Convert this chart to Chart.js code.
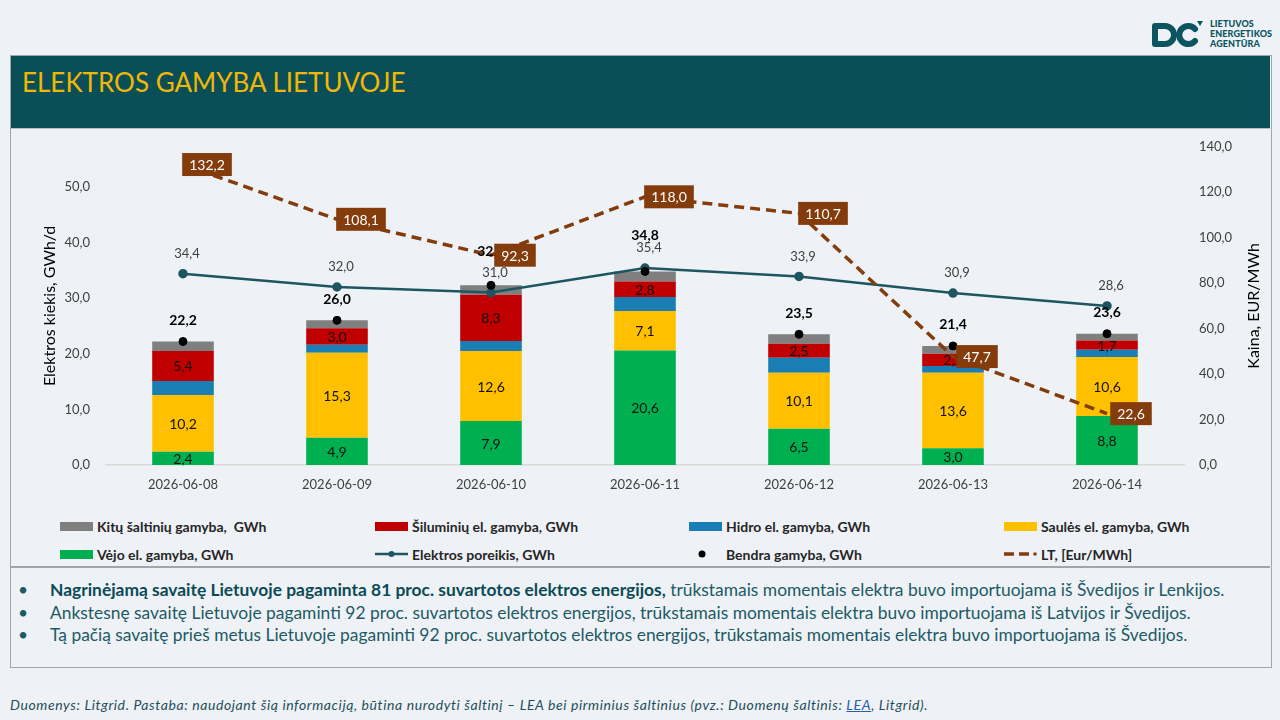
<!DOCTYPE html>
<html lang="lt">
<head>
<meta charset="utf-8">
<title>Elektros gamyba Lietuvoje</title>
<script src="https://cdn.jsdelivr.net/npm/chart.js@4.4.1/dist/chart.umd.min.js"></script>
<style>
  html, body { margin: 0; padding: 0; }
  body { width: 1280px; height: 720px; background: #eef2f6; position: relative; overflow: hidden; font-family: Lato, "Open Sans", sans-serif; }
  #remas { position: absolute; left: 10px; top: 55px; width: 1262px; height: 613px; border: 1.5px solid #a3a6a9; box-sizing: border-box; }
  #antraste { position: absolute; left: 11px; top: 56px; width: 1259px; height: 72px; background: #0a4f57; border-bottom: 1.5px solid #b9bcbf; }
  #antraste h1 { margin: 0; position: absolute; left: 11px; top: 10px; font-weight: 400; font-size: 26px; color: #f2b705; letter-spacing: 0; }
  #grafikas { position: absolute; left: 11px; top: 123px; }
  #legenda { position: absolute; left: 0; top: 512px; width: 1280px; height: 56px; }
  .irasas { position: absolute; height: 20px; display: flex; align-items: center; font-size: 14px; font-weight: 700; color: #262626; white-space: pre; }
  .irasas .zenklas { width: 33px; height: 12px; margin-right: 4px; display: flex; align-items: center; }
  #skirtukas { position: absolute; left: 11px; top: 566px; width: 1259px; height: 1.5px; background: #a3a6a9; }
  #tekstas { position: absolute; left: 18px; top: 579px; margin: 0; padding: 0; list-style: none; font-size: 17.4px; color: #1d5a64; }
  #tekstas li { position: relative; padding-left: 32px; height: 22.5px; line-height: 22.5px; white-space: nowrap; }
  #tekstas li::before { content: "•"; position: absolute; left: 0; top: 0; color: #1d5a64; }
  #tekstas b { color: #0b4a55; }
  #saltinis { position: absolute; left: 10px; top: 696px; font-size: 14px; font-style: italic; color: #1f4e5a; white-space: nowrap; letter-spacing: 0.6px; }
  #saltinis u { color: #2a5fa8; }
  #logo { position: absolute; left: 1150px; top: 18px; display: flex; align-items: center; }
  #logo .pav { margin-left: 6px; font-size: 9px; font-weight: 900; color: #0b5560; line-height: 10px; letter-spacing: 0.1px; }
</style>
</head>
<body>
<div id="logo">
  <svg width="54" height="32" viewBox="0 0 54 32">
    <path d="M5 8 H15 A9 9 0 0 1 15 26 H5 Z" fill="none" stroke="#0b5560" stroke-width="6" stroke-linejoin="round"/>
    <path d="M45 11 A9 9 0 1 0 45 23" fill="none" stroke="#0b5560" stroke-width="6" stroke-linecap="round"/>
    <path d="M47 3 L53 3 L50 8 Z" fill="#0b5560"/>
  </svg>
  <div class="pav">LIETUVOS<br>ENERGETIKOS<br>AGENTŪRA</div>
</div>

<div id="remas"></div>
<div id="antraste"><h1>ELEKTROS GAMYBA LIETUVOJE</h1></div>
<canvas id="grafikas" width="1259" height="386"></canvas>
<div id="legenda"></div>
<div id="skirtukas"></div>
<ul id="tekstas">
  <li><b>Nagrinėjamą savaitę Lietuvoje pagaminta 81 proc. suvartotos elektros energijos,</b> trūkstamais momentais elektra buvo importuojama iš Švedijos ir Lenkijos.</li>
  <li>Ankstesnę savaitę Lietuvoje pagaminti 92 proc. suvartotos elektros energijos, trūkstamais momentais elektra buvo importuojama iš Latvijos ir Švedijos.</li>
  <li>Tą pačią savaitę prieš metus Lietuvoje pagaminti 92 proc. suvartotos elektros energijos, trūkstamais momentais elektra buvo importuojama iš Švedijos.</li>
</ul>
<div id="saltinis">Duomenys: Litgrid. Pastaba: naudojant šią informaciją, būtina nurodyti šaltinį – LEA bei pirminius šaltinius (pvz.: Duomenų šaltinis: <u>LEA</u>, Litgrid).</div>

<script>
// duomenys
const dienos = ["2026-06-08", "2026-06-09", "2026-06-10", "2026-06-11", "2026-06-12", "2026-06-13", "2026-06-14"];
const vejo = [2.4, 4.9, 7.9, 20.6, 6.5, 3.0, 8.8];
const saules = [10.2, 15.3, 12.6, 7.1, 10.1, 13.6, 10.6];
const hidro = [2.5, 1.4, 1.8, 2.5, 2.7, 1.2, 1.3];
const siluminiu = [5.4, 3.0, 8.3, 2.8, 2.5, 2.2, 1.7];
const kitu = [1.7, 1.4, 1.7, 1.8, 1.7, 1.4, 1.2];
const poreikis = [34.4, 32.0, 31.0, 35.4, 33.9, 30.9, 28.6];
const bendra = [22.2, 26.0, 32.3, 34.8, 23.5, 21.4, 23.6];
const kaina = [132.2, 108.1, 92.3, 118.0, 110.7, 47.7, 22.6];

const kiekioTiksai = [0, 10, 20, 30, 40, 50];

const kablelis = v => v.toFixed(1).replace(".", ",");

Chart.defaults.font.family = "Lato, 'Open Sans', sans-serif";
Chart.defaults.color = "#404040";

// reiksmiu uzrasai ant stulpeliu ir tasku
const zymos = {
  id: "zymos",
  afterDatasetsDraw(chart) {
    const ctx = chart.ctx;
    const dsList = chart.data.datasets;
    const porMeta = chart.getDatasetMeta(dsList.findIndex(d => d.zyme === "virsus"));
    const porY = porMeta.data.map(el => el.y - 20);
    ctx.save();
    ctx.textAlign = "center";
    ctx.textBaseline = "middle";
    dsList.forEach((ds, i) => {
      const meta = chart.getDatasetMeta(i);
      if (!ds.zyme) return;
      meta.data.forEach((el, j) => {
        const t = kablelis(ds.data[j]);
        if (ds.zyme === "vidurys") {
          ctx.font = "14px Lato, sans-serif";
          ctx.fillStyle = "#111";
          ctx.fillText(t, el.x, (el.y + el.base) / 2 + 1);
        } else if (ds.zyme === "virsus") {
          ctx.font = "13px Lato, sans-serif";
          ctx.fillStyle = "#404040";
          ctx.fillText(t, el.x + 4, porY[j]);
        } else if (ds.zyme === "virsusBold") {
          let y = el.y - 21;
          // jei susiduria su poreikio uzrasu - kelti auksciau
          if (Math.abs(y - porY[j]) < 14) y = Math.min(y, porY[j]) - 13;
          ctx.font = "bold 14px Lato, sans-serif";
          ctx.fillStyle = "#000";
          ctx.fillText(t, el.x, y);
        } else if (ds.zyme === "deze") {
          ctx.font = "14px Lato, sans-serif";
          const w = ctx.measureText(t).width + 14;
          const h = 23;
          const cx = el.x + 24;
          ctx.fillStyle = "#843c0c";
          ctx.fillRect(cx - w / 2, el.y - h / 2, w, h);
          ctx.fillStyle = "#fff";
          ctx.fillText(t, cx, el.y + 1);
        }
      });
    });
    ctx.restore();
  },
  afterDraw(chart) {
    // desines asies pavadinimas skaitomas is apacios i virsu
    const s = chart.scales.y1;
    const ctx = chart.ctx;
    ctx.save();
    ctx.translate(s.right - 12, (s.top + s.bottom) / 2);
    ctx.rotate(-Math.PI / 2);
    ctx.font = "16px Lato, sans-serif";
    ctx.fillStyle = "#000";
    ctx.textAlign = "center";
    ctx.textBaseline = "middle";
    ctx.fillText("Kaina, EUR/MWh", 0, 0);
    ctx.restore();
  }
};

const grafikas = new Chart(document.getElementById("grafikas"), {
  type: "bar",
  data: {
    labels: dienos,
    datasets: [
      { label: "Vėjo el. gamyba, GWh", data: vejo, backgroundColor: "#00b050", order: 5, zyme: "vidurys" },
      { label: "Saulės el. gamyba, GWh", data: saules, backgroundColor: "#ffc000", order: 5, zyme: "vidurys" },
      { label: "Hidro el. gamyba, GWh", data: hidro, backgroundColor: "#1a7db3", order: 5 },
      { label: "Šiluminių el. gamyba, GWh", data: siluminiu, backgroundColor: "#c00000", order: 5, zyme: "vidurys" },
      { label: "Kitų šaltinių gamyba,  GWh", data: kitu, backgroundColor: "#7f7f7f", order: 5 },
      {
        type: "line", label: "Elektros poreikis, GWh", data: poreikis, stack: "poreikis", order: 3,
        borderColor: "#1d5661", backgroundColor: "#1d5661", borderWidth: 2.5,
        pointRadius: 3.5, pointBackgroundColor: "#1d5661", tension: 0, zyme: "virsus"
      },
      {
        type: "line", label: "Bendra gamyba, GWh", data: bendra, stack: "bendra", order: 2,
        showLine: false, borderColor: "#000", backgroundColor: "#000",
        pointRadius: 4, pointBackgroundColor: "#000", zyme: "virsusBold"
      },
      {
        type: "line", label: "LT, [Eur/MWh]", data: kaina, yAxisID: "y1", order: 1,
        borderColor: "#843c0c", backgroundColor: "#843c0c", borderWidth: 3.5,
        borderDash: [10, 6], pointRadius: 0, tension: 0, zyme: "deze"
      }
    ]
  },
  options: {
    responsive: false,
    animation: false,
    layout: { padding: { left: 29, right: 4, top: 14, bottom: 0 } },
    datasets: { bar: { barPercentage: 0.4, categoryPercentage: 1.0 } },
    plugins: {
      legend: { display: false },
      tooltip: { enabled: false }
    },
    scales: {
      x: {
        stacked: true,
        grid: { display: false, drawTicks: false },
        border: { display: true, color: "#d9d9d9", width: 1.5 },
        ticks: { padding: 12, color: "#404040", font: { size: 13 } },
        afterFit: s => { s.height = 44; }
      },
      y: {
        stacked: true,
        min: 0,
        max: 57.2,
        grid: { display: false, drawTicks: false },
        border: { display: false },
        ticks: { stepSize: 10, padding: 16, color: "#404040", font: { size: 13 }, callback: v => kablelis(v) },
        afterBuildTicks: s => { s.ticks = kiekioTiksai.map(v => ({ value: v })); },
        title: { display: true, text: "Elektros kiekis, GWh/d", color: "#000", font: { size: 16 }, padding: 0 },
        afterFit: s => { s.width = 66; }
      },
      y1: {
        position: "right",
        min: 0,
        max: 140,
        grid: { display: false, drawTicks: false },
        border: { display: false },
        ticks: { stepSize: 20, padding: 15, color: "#404040", font: { size: 13 }, callback: v => kablelis(v) },
        afterFit: s => { s.width = 82; }
      }
    }
  },
  plugins: [zymos]
});

// legenda is grafiko duomenu
const legendosTvarka = [4, 3, 2, 1, 0, 5, 6, 7];
const stulpeliai = [60, 375, 689, 1004];
const eilutes = [516, 544];
const legenda = document.getElementById("legenda");
legendosTvarka.forEach((idx, k) => {
  const ds = grafikas.data.datasets[idx];
  const div = document.createElement("div");
  div.className = "irasas";
  div.style.left = stulpeliai[k % 4] + "px";
  div.style.top = (eilutes[Math.floor(k / 4)] - 512) + "px";
  const z = document.createElement("span");
  z.className = "zenklas";
  const c = ds.borderColor;
  if (!ds.type) {
    z.innerHTML = '<span style="display:block;width:33px;height:9px;background:' + ds.backgroundColor + '"></span>';
  } else if (ds.showLine === false) {
    z.innerHTML = '<svg width="33" height="12"><circle cx="13" cy="6" r="3.5" fill="' + c + '"/></svg>';
  } else if (ds.borderDash) {
    z.innerHTML = '<svg width="33" height="12"><line x1="0" y1="6" x2="30" y2="6" stroke="' + c + '" stroke-width="3.5" stroke-dasharray="10 5"/><circle cx="31" cy="6" r="1.8" fill="' + c + '"/></svg>';
  } else {
    z.innerHTML = '<svg width="33" height="12"><line x1="0" y1="6" x2="33" y2="6" stroke="' + c + '" stroke-width="2.5"/><circle cx="16.5" cy="6" r="3" fill="' + c + '"/></svg>';
  }
  div.appendChild(z);
  div.appendChild(document.createTextNode(ds.label));
  legenda.appendChild(div);
});
</script>
</body>
</html>
